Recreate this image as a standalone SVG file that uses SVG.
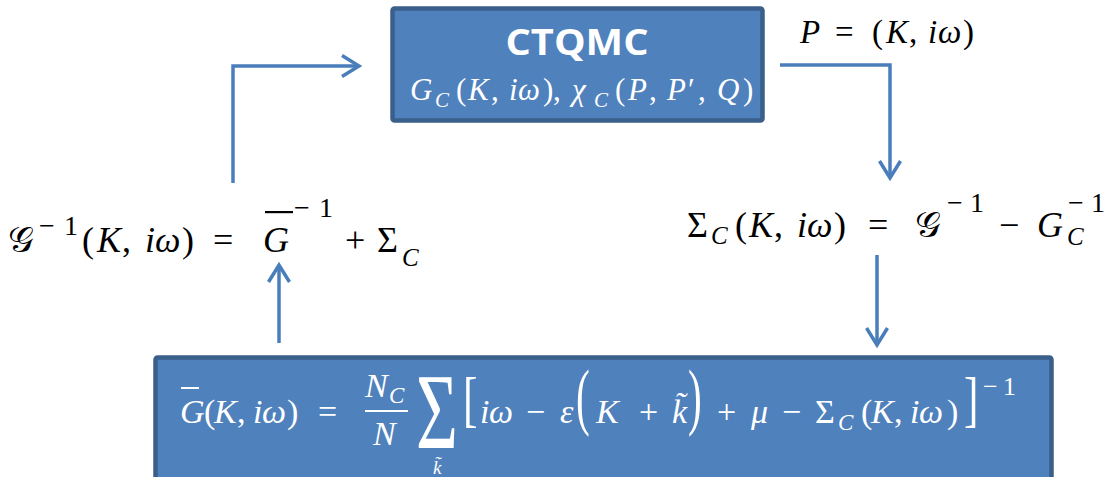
<svg xmlns="http://www.w3.org/2000/svg" width="1107" height="477" viewBox="0 0 1107 477">
<style>
.f{font-family:"Liberation Serif","DejaVu Serif",serif;fill:#000}
.w{fill:#fff}
.it{font-style:italic}
.box{fill:#4F81BD;stroke:#3A5F8B;stroke-width:4.5}
.conn{stroke:#4A7EBB;stroke-width:3.5;fill:none}
.head{stroke:#4A7EBB;stroke-width:3.5;fill:none;stroke-linejoin:miter}
.scr{font-family:"DejaVu Serif","Noto Sans","DejaVu Sans",serif;font-style:normal}
</style>
<defs>
<marker id="arr" markerUnits="userSpaceOnUse" viewBox="-20 -14 24 28" refX="0" refY="0" markerWidth="24" markerHeight="28" orient="auto" overflow="visible">
<path class="head" d="M-17,-10.5 L0,0 L-17,10.5"/>
</marker>
</defs>

<g id="connectors">
<path class="conn" d="M233,183 V66 H359" marker-end="url(#arr)"/>
<path class="conn" d="M780,65 H890 V178" marker-end="url(#arr)"/>
<path class="conn" d="M279,343 V265" marker-end="url(#arr)"/>
<path class="conn" d="M877,255 V345" marker-end="url(#arr)"/>
</g>

<g id="ctqmc">
<rect class="box" x="392.5" y="8.5" width="370" height="112" rx="2"/>
<text x="577" y="55" text-anchor="middle" font-family="'Open Sans','Liberation Sans',sans-serif" font-weight="bold" font-size="35" fill="#fff" textLength="143" lengthAdjust="spacingAndGlyphs">CTQMC</text>
<text class="f w" font-size="31" y="100"><tspan class="it" x="410">G</tspan><tspan class="it" x="435" y="107" font-size="21">C</tspan><tspan x="456" y="100">(</tspan><tspan class="it" x="468">K</tspan><tspan x="491">,</tspan><tspan class="it" x="509">i</tspan><tspan class="it" x="518">ω</tspan><tspan x="543">)</tspan><tspan x="553">,</tspan><tspan class="it" x="572">χ</tspan><tspan class="it" x="594" y="107" font-size="21">C</tspan><tspan x="615" y="100">(</tspan><tspan class="it" x="628">P</tspan><tspan x="649">,</tspan><tspan class="it" x="667">P</tspan><tspan x="688">′</tspan><tspan x="698">,</tspan><tspan class="it" x="717">Q</tspan><tspan x="743">)</tspan></text>
</g>

<g id="p-label">
<text class="f" font-size="33" y="43"><tspan class="it" x="800">P</tspan><tspan x="835">=</tspan><tspan x="872">(</tspan><tspan class="it" x="886">K</tspan><tspan x="909">,</tspan><tspan class="it" x="928">i</tspan><tspan class="it" x="938">ω</tspan><tspan x="963">)</tspan></text>
</g>

<g id="weiss-field">
<text class="f" font-size="36" y="252"><tspan class="scr" x="8">𝒢</tspan><tspan x="39" y="235" font-size="28">−</tspan><tspan x="64" font-size="28">1</tspan><tspan x="82" y="252">(</tspan><tspan class="it" x="97">K</tspan><tspan x="122">,</tspan><tspan class="it" x="145">i</tspan><tspan class="it" x="155">ω</tspan><tspan x="182">)</tspan><tspan x="213">=</tspan><tspan class="it" x="263">G</tspan><tspan x="294" y="217" font-size="28">−</tspan><tspan x="319" font-size="28">1</tspan><tspan x="345" y="252">+</tspan><tspan x="377">Σ</tspan><tspan class="it" x="402" y="266" font-size="25">C</tspan></text>
<rect x="265" y="211" width="28" height="2.2" fill="#000"/>
</g>

<g id="self-energy">
<text class="f" font-size="36" y="237"><tspan x="687">Σ</tspan><tspan class="it" x="711" y="244" font-size="25">C</tspan><tspan x="735" y="237">(</tspan><tspan class="it" x="749">K</tspan><tspan x="774">,</tspan><tspan class="it" x="797">i</tspan><tspan class="it" x="807">ω</tspan><tspan x="834">)</tspan><tspan x="868">=</tspan><tspan class="scr" x="915">𝒢</tspan><tspan x="947" y="212" font-size="28">−</tspan><tspan x="970" font-size="28">1</tspan><tspan x="999" y="237">−</tspan><tspan class="it" x="1037">G</tspan><tspan x="1068" y="212" font-size="28">−</tspan><tspan x="1091" font-size="28">1</tspan><tspan class="it" x="1067" y="245" font-size="25">C</tspan></text>
</g>

<g id="coarse-grained">
<rect class="box" x="155.5" y="357.5" width="896" height="130" rx="2"/>
<g class="f w" font-size="34">
<text y="423"><tspan class="it" x="180">G</tspan><tspan x="204">(</tspan><tspan class="it" x="214">K</tspan><tspan x="237">,</tspan><tspan class="it" x="253">i</tspan><tspan class="it" x="262">ω</tspan><tspan x="287">)</tspan><tspan x="318">=</tspan></text>
<rect x="181" y="387" width="18" height="2" fill="#fff"/>
<text y="397"><tspan class="it" x="365">N</tspan><tspan class="it" x="389" y="403" font-size="23">C</tspan></text>
<rect x="365" y="410" width="43" height="2" fill="#fff"/>
<text y="445"><tspan class="it" x="373">N</tspan></text>
<text transform="translate(416,448) scale(1,1.5)" font-size="72">Σ</text>
<text y="474" font-size="19"><tspan class="it" x="433">k̃</tspan></text>
<text transform="translate(463,420) scale(0.7,1)" font-size="62">[</text>
<text y="423"><tspan class="it" x="480">i</tspan><tspan class="it" x="489">ω</tspan><tspan x="526">−</tspan><tspan class="it" x="560">ε</tspan><tspan class="it" x="596">K</tspan><tspan x="639">+</tspan><tspan class="it" x="672">k̃</tspan><tspan x="717">+</tspan><tspan class="it" x="751">μ</tspan><tspan x="782">−</tspan><tspan x="815">Σ</tspan><tspan class="it" x="838" y="430" font-size="23">C</tspan><tspan x="861" y="423">(</tspan><tspan class="it" x="871">K</tspan><tspan x="894">,</tspan><tspan class="it" x="910">i</tspan><tspan class="it" x="919">ω</tspan><tspan x="947">)</tspan></text>
<text transform="translate(576,421) scale(0.55,1)" font-size="75">(</text>
<text transform="translate(688,421) scale(0.55,1)" font-size="75">)</text>
<text transform="translate(964,420) scale(0.7,1)" font-size="62">]</text>
<text y="395" font-size="26"><tspan x="983">−</tspan><tspan x="1003">1</tspan></text>
</g>
</g>
</svg>
